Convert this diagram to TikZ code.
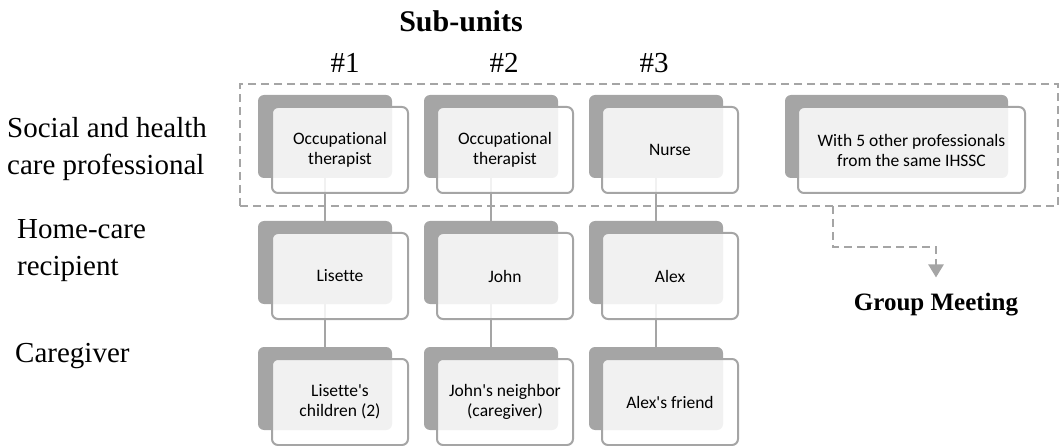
\documentclass[tikz,border=0pt]{standalone}
\usepackage{fontspec}
\setmainfont{Liberation Serif}
\newfontfamily\boxfont[Ligatures=NoCommon]{Carlito}
\usetikzlibrary{arrows.meta,backgrounds}
\definecolor{boxgray}{HTML}{A5A5A5}

\begin{document}
\begin{tikzpicture}[x=1pt, y=-1pt,
    backbox/.style={fill=boxgray, rounded corners=6pt, minimum width=134pt, minimum height=83pt, inner sep=0pt},
    frontbox/.style={draw=boxgray, line width=2pt, fill=white, fill opacity=0.85, text opacity=1, rounded corners=6pt,
        minimum width=136pt, minimum height=86pt, align=center, font=\boxfont\fontsize{17.5}{20}\selectfont},
    rowlabel/.style={align=left, inner sep=0pt, font=\fontsize{29}{37}\selectfont},
    link/.style={draw=boxgray, line width=2pt},
    dashlink/.style={draw=boxgray, line width=2.5pt, dash pattern=on 8pt off 5pt}]
    \useasboundingbox (0,0) rectangle (1062,446);

    % Titles
    \node[font=\fontsize{30}{34}\selectfont\bfseries, anchor=base, inner sep=0pt] (sub) at (461, 32) {Sub-units};
    \node[font=\fontsize{29}{32}\selectfont, anchor=base, inner sep=0pt] (n1) at (345, 73) {\#1};
    \node[font=\fontsize{29}{32}\selectfont, anchor=base, inner sep=0pt] (n2) at (504, 73) {\#2};
    \node[font=\fontsize{29}{32}\selectfont, anchor=base, inner sep=0pt] (n3) at (654, 73) {\#3};

    % Row labels
    \node[rowlabel, anchor=west] (lprof) at (7, 149) {Social and health\\care professional};
    \node[rowlabel, anchor=west] (lrec) at (17, 251) {Home-care\\recipient};
    \node[rowlabel, anchor=base west] (lcare) at (15, 362) {Caregiver};

    % Group of professionals
    \node[dashlink, minimum width=818pt, minimum height=122pt, inner sep=0pt] (grp) at (649, 145) {};

    % Professionals
    \node[backbox] (b11) at (325, 136.5) {};
    \node[backbox] (b12) at (491, 136.5) {};
    \node[backbox] (b13) at (656, 136.5) {};
    \node[backbox, minimum width=223pt] (b14) at (896.5, 136.5) {};
    \node[frontbox] (f11) at (340, 150) {Occupational\\therapist};
    \node[frontbox] (f12) at (505, 150) {Occupational\\therapist};
    \node[frontbox] (f13) at (670, 150) {Nurse};
    \node[frontbox, minimum width=227pt] (f14) at (911.5, 150) {With 5 other professionals\\from the same IHSSC};

    % Home-care recipients
    \node[backbox] (b21) at (325, 262.5) {};
    \node[backbox] (b22) at (491, 262.5) {};
    \node[backbox] (b23) at (656, 262.5) {};
    \node[frontbox] (f21) at (340, 276) {Lisette};
    \node[frontbox] (f22) at (505, 276) {John};
    \node[frontbox] (f23) at (670, 276) {Alex};

    % Caregivers
    \node[backbox] (b31) at (325, 388.5) {};
    \node[backbox] (b32) at (491, 388.5) {};
    \node[backbox] (b33) at (656, 388.5) {};
    \node[frontbox] (f31) at (340, 402) {Lisette\textquotesingle s\\children (2)};
    \node[frontbox] (f32) at (505, 402) {John\textquotesingle s neighbor\\(caregiver)};
    \node[frontbox] (f33) at (670, 402) {Alex\textquotesingle s friend};

    % Links
    \begin{scope}[on background layer]
        \draw[link] (b11.south) -- (b21.north);
        \draw[link] (b12.south) -- (b22.north);
        \draw[link] (b13.south) -- (b23.north);
        \draw[link] (b21.south) -- (b31.north);
        \draw[link] (b22.south) -- (b32.north);
        \draw[link] (b23.south) -- (b33.north);
    \end{scope}

    % Group meeting
    \node[font=\fontsize{25}{28}\selectfont\bfseries, anchor=base, inner sep=0pt] (meet) at (936, 310) {Group Meeting};
    \coordinate (gout) at (833, 206);
    \draw[dashlink, -{Triangle[width=15pt, length=13pt]}, shorten >=15pt] (gout) -- ++(0, 41) -| (meet.north);
\end{tikzpicture}
\end{document}
